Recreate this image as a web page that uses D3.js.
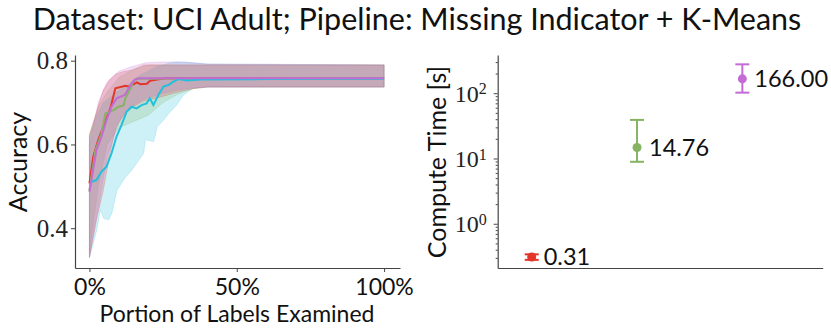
<!DOCTYPE html>
<html>
<head>
<meta charset="utf-8">
<script src="https://cdn.jsdelivr.net/npm/d3@7"></script>
<style>
  body { margin: 0; background: #fff; }
  svg { display: block; }
</style>
</head>
<body>
<div class="container"></div>
<script>
// accuracy curves [portion, accuracy]
var redLine = [[0,0.507],[0.013,0.571],[0.03,0.611],[0.047,0.642],[0.071,0.686],[0.088,0.734],[0.122,0.74],[0.135,0.738],[0.161,0.748],[0.173,0.744],[0.195,0.745],[0.206,0.752],[0.23,0.755],[0.26,0.758],[1,0.758]];
var greenLine = [[0,0.49],[0.02,0.585],[0.04,0.625],[0.054,0.674],[0.082,0.682],[0.099,0.69],[0.116,0.693],[0.122,0.71],[0.139,0.734],[0.15,0.752],[0.16,0.757],[1,0.758]];
var cyanLine = [[0.007,0.511],[0.024,0.515],[0.041,0.535],[0.058,0.547],[0.075,0.579],[0.092,0.619],[0.109,0.647],[0.126,0.678],[0.143,0.69],[0.16,0.686],[0.177,0.694],[0.194,0.698],[0.205,0.71],[0.217,0.694],[0.234,0.718],[0.251,0.738],[0.268,0.742],[0.285,0.75],[0.302,0.756],[0.33,0.753],[0.375,0.755],[0.6,0.756],[0.85,0.757],[1,0.757]];
var purpleLine = [[0,0.487],[0.024,0.587],[0.041,0.619],[0.058,0.658],[0.075,0.69],[0.092,0.71],[0.12,0.718],[0.143,0.746],[0.154,0.755],[0.17,0.758],[1,0.758]];

// spread bands [portion, low, high]
var redBand = [[0,0.33,0.625],[0.024,0.42,0.678],[0.047,0.49,0.73],[0.07,0.58,0.755],[0.09,0.64,0.768],[0.115,0.67,0.774],[0.149,0.69,0.778],[0.183,0.703,0.79],[0.25,0.715,0.79],[0.3,0.725,0.79],[0.35,0.733,0.79],[0.4,0.737,0.79],[1,0.737,0.79]];
var greenBand = [[0,0.34,0.62],[0.03,0.5,0.69],[0.06,0.6,0.725],[0.1,0.64,0.76],[0.15,0.655,0.78],[0.2,0.67,0.79],[0.25,0.7,0.79],[0.3,0.72,0.79],[0.35,0.733,0.79],[0.4,0.737,0.79],[1,0.737,0.79]];
var cyanBand = [[0,0.33,0.62],[0.025,0.396,0.67],[0.037,0.444,0.685],[0.048,0.424,0.7],[0.065,0.42,0.71],[0.076,0.436,0.715],[0.093,0.49,0.725],[0.12,0.52,0.738],[0.144,0.539,0.75],[0.16,0.555,0.76],[0.184,0.579,0.77],[0.19,0.611,0.772],[0.218,0.607,0.782],[0.23,0.642,0.786],[0.251,0.658,0.79],[0.274,0.678,0.795],[0.296,0.694,0.797],[0.319,0.718,0.797],[0.353,0.734,0.795],[0.4,0.737,0.792],[1,0.737,0.79]];
var purpleBand = [[0,0.33,0.6],[0.03,0.45,0.7],[0.06,0.57,0.75],[0.1,0.655,0.775],[0.14,0.69,0.785],[0.19,0.71,0.795],[0.25,0.722,0.797],[0.3,0.73,0.797],[0.35,0.735,0.795],[0.4,0.737,0.792],[1,0.737,0.79]];

// compute time
var timeNames = ['red', 'green', 'purple'];
var timeMean = [0.31, 14.76, 166.00];
var timeLow = [0.28, 8.9, 102];
var timeHigh = [0.34, 39, 277];

var xTicks = [0, 0.5, 1];
var xTickLabels = ['0%', '50%', '100%'];
var yTicks = [0.4, 0.6, 0.8];
var logTicks = [1, 10, 100];
var logTickExp = ['0', '1', '2'];

var colors = { red: '#e4352b', green: '#86b362', cyan: '#22c0da', purple: '#c56bd5' };

var sans = 'Lato, "Liberation Sans", sans-serif',
    serif = '"Liberation Serif", "DejaVu Serif", serif';

var width = 831, height = 336;

var svg = d3.select('.container')
  .append('svg')
  .attr('width', width)
  .attr('height', height);

svg.append('text')
  .attr('x', 417)
  .attr('y', 30)
  .attr('text-anchor', 'middle')
  .style('font-family', sans)
  .style('font-size', '30.5px')
  .style('fill', '#111')
  .text('Dataset: UCI Adult; Pipeline: Missing Indicator + K-Means');

// ---------- left panel ----------
var xScale = d3.scaleLinear().domain([-0.049, 1.054]).range([75, 400]);
var yScale = d3.scaleLinear().domain([0.305, 0.8136]).range([268, 55]);

var left = svg.append('g');

var area = d3.area()
  .x(d => xScale(d[0]))
  .y0(d => yScale(d[1]))
  .y1(d => yScale(d[2]));

var line = d3.line()
  .x(d => xScale(d[0]))
  .y(d => yScale(d[1]));

[[cyanBand, 'cyan'], [greenBand, 'green'], [redBand, 'red'], [purpleBand, 'purple']].forEach(b => {
  left.append('path')
    .datum(b[0])
    .attr('d', area)
    .attr('fill', colors[b[1]])
    .attr('fill-opacity', 0.22)
    .attr('stroke', colors[b[1]])
    .attr('stroke-opacity', 0.25)
    .attr('stroke-width', 0.8);
});

[[redLine, 'red'], [greenLine, 'green'], [cyanLine, 'cyan'], [purpleLine, 'purple']].forEach(l => {
  left.append('path')
    .datum(l[0])
    .attr('d', line)
    .attr('fill', 'none')
    .attr('stroke', colors[l[1]])
    .attr('stroke-width', 2);
});

var xAxis = d3.axisBottom(xScale).tickValues(xTicks).tickSize(4).tickSizeOuter(0)
  .tickFormat((d, i) => xTickLabels[i]);
var gx = left.append('g')
  .attr('transform', 'translate(0,268)')
  .call(xAxis);
gx.selectAll('text')
  .attr('y', 27)
  .attr('dy', 0)
  .style('font-family', sans)
  .style('font-size', '23px')
  .style('fill', '#111');

var yAxis = d3.axisLeft(yScale).tickValues(yTicks).tickSize(4).tickSizeOuter(0)
  .tickFormat(d3.format('.1f'));
var gy = left.append('g')
  .attr('transform', 'translate(75,0)')
  .call(yAxis)
  .attr('font-family', serif);
gy.selectAll('text')
  .attr('x', -7)
  .attr('dy', '0.33em')
  .style('font-family', serif)
  .style('font-size', '25px')
  .style('fill', '#222');

left.append('text')
  .attr('x', 237)
  .attr('y', 322)
  .attr('text-anchor', 'middle')
  .style('font-family', sans)
  .style('font-size', '23px')
  .style('fill', '#111')
  .text('Portion of Labels Examined');

left.append('text')
  .attr('transform', 'translate(27,162) rotate(-90)')
  .attr('text-anchor', 'middle')
  .style('font-family', sans)
  .style('font-size', '25px')
  .style('fill', '#111')
  .text('Accuracy');

// ---------- right panel ----------
var xScale2 = d3.scaleLinear().domain([-0.323, 2.763]).range([497.7, 822.7]);
var yScale2 = d3.scaleLog().domain([0.21, 385]).range([268, 55]);

var right = svg.append('g');

var minorTicks = [];
[0.1, 1, 10, 100].forEach(dec => {
  for (var k = 2; k <= 9; k++) {
    var v = dec * k;
    if (v >= 0.21 && v <= 385) minorTicks.push(v);
  }
});

right.append('g')
  .attr('transform', 'translate(497.7,0)')
  .call(d3.axisLeft(yScale2).tickValues(minorTicks).tickSize(2).tickSizeOuter(0).tickFormat(''))
  .select('.domain').remove();

var gy2 = right.append('g')
  .attr('transform', 'translate(497.7,0)')
  .call(d3.axisLeft(yScale2).tickValues(logTicks).tickSize(4).tickSizeOuter(0).tickFormat(''))
  .attr('font-family', serif);
gy2.selectAll('.tick text').each(function(d, i) {
  var t = d3.select(this)
    .attr('x', -11)
    .attr('dy', '0.33em')
    .style('font-family', serif)
    .style('font-size', '24px')
    .style('fill', '#222');
  t.append('tspan').text('10');
  t.append('tspan').attr('dy', '-0.45em').style('font-size', '16px').text(logTickExp[i]);
});

right.append('g')
  .attr('transform', 'translate(0,268)')
  .call(d3.axisBottom(xScale2).tickValues([]).tickSizeOuter(0));

svg.selectAll('.domain').attr('stroke', '#444').attr('stroke-width', 1.2);
svg.selectAll('.tick line').attr('stroke', '#444');

var pts = right.selectAll('.pt')
  .data(timeMean)
  .enter()
  .append('g')
  .attr('class', 'pt');

pts.append('line')
  .attr('x1', (d, i) => xScale2(i))
  .attr('x2', (d, i) => xScale2(i))
  .attr('y1', (d, i) => yScale2(timeLow[i]))
  .attr('y2', (d, i) => yScale2(timeHigh[i]))
  .attr('stroke', (d, i) => colors[timeNames[i]])
  .attr('stroke-width', 2);

[timeLow, timeHigh].forEach(arr => {
  pts.append('line')
    .attr('x1', (d, i) => xScale2(i) - 7)
    .attr('x2', (d, i) => xScale2(i) + 7)
    .attr('y1', (d, i) => yScale2(arr[i]))
    .attr('y2', (d, i) => yScale2(arr[i]))
    .attr('stroke', (d, i) => colors[timeNames[i]])
    .attr('stroke-width', 2);
});

pts.append('circle')
  .attr('cx', (d, i) => xScale2(i))
  .attr('cy', d => yScale2(d))
  .attr('r', 4.5)
  .attr('fill', (d, i) => colors[timeNames[i]]);

pts.append('text')
  .attr('x', (d, i) => xScale2(i) + 12)
  .attr('y', d => yScale2(d))
  .attr('dy', '0.36em')
  .style('font-family', sans)
  .style('font-size', '23.5px')
  .style('fill', '#111')
  .text(d => d.toFixed(2));

right.append('text')
  .attr('transform', 'translate(446,162) rotate(-90)')
  .attr('text-anchor', 'middle')
  .style('font-family', sans)
  .style('font-size', '25px')
  .style('fill', '#111')
  .text('Compute Time [s]');
</script>
</body>
</html>
